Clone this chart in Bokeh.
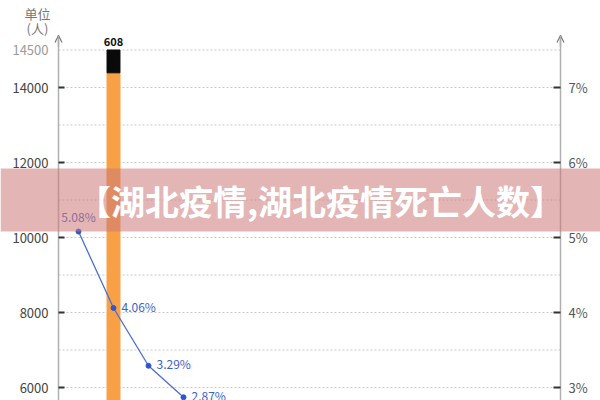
from bokeh.plotting import figure
from bokeh.models import (Range1d, LinearAxis, FixedTicker, PrintfTickFormatter,
                          Label, BoxAnnotation, Arrow, OpenHead, ColumnDataSource, LabelSet)
from bokeh.core.properties import value
from bokeh.embed import file_html
from bokeh.resources import INLINE

# ---- data ----
days = [1, 2, 3, 4]
rate_pct = [5.08, 4.06, 3.29, 2.87]
rate_labels = ["5.08%", "4.06%", "3.29%", "2.87%"]
bar_day = [2]
bar_cases = [14392]
bar_deaths = [608]
left_ticks = [6000, 8000, 10000, 12000, 14000]
top_tick = [15000]
top_tick_label = {15000: "14500"}
grid_ticks = [6000, 7000, 8000, 9000, 10000, 11000, 12000, 13000, 14000, 15000]
right_ticks = [3, 4, 5, 6, 7]
banner_text = "【湖北疫情,湖北疫情死亡人数】"
unit_text = ["单位", "(人)"]

FONT = "Noto Sans CJK SC"
PCT_PER_UNIT = 1 / 2000.0


# layout helpers: page column/row -> data coordinates
def x_at(col):
    return 1 + (col - 78) / 35.0


def v_at(row):
    return 14000 - (row - 87) * 2000 / 75.0


Y_LO, Y_HI = v_at(400), v_at(0)
LEFT_X, RIGHT_X, AXIS_TOP = x_at(58), x_at(560), v_at(35)

p = figure(width=600, height=400, output_backend="svg", toolbar_location=None,
           x_range=Range1d(x_at(0), x_at(600)), y_range=Range1d(Y_LO, Y_HI),
           x_axis_type=None, y_axis_type=None,
           min_border_left=0, min_border_right=0, min_border_top=0, min_border_bottom=0)
p.outline_line_color = None
p.xgrid.visible = False
p.ygrid.visible = False
p.extra_y_ranges = {"pct": Range1d(Y_LO * PCT_PER_UNIT, Y_HI * PCT_PER_UNIT)}

# dashed grid lines between the two axes
n = len(grid_ticks)
p.segment(x0=[LEFT_X] * n, y0=grid_ticks, x1=[RIGHT_X] * n, y1=grid_ticks,
          line_color="#c8c8c8", line_dash="2 2", line_width=1)

# axes
common = dict(major_tick_out=0, major_tick_line_width=2, minor_tick_line_color=None,
              major_label_text_font=FONT, major_label_text_font_size="13px")
la = LinearAxis(fixed_location=LEFT_X, bounds=(Y_LO, AXIS_TOP),
                ticker=FixedTicker(ticks=left_ticks),
                axis_line_color="#b0b0b0", axis_line_width=1.5,
                major_tick_in=6, major_tick_line_color="#333333",
                major_label_text_color="#444444", major_label_standoff=10, **common)
p.add_layout(la, "left")
la_top = LinearAxis(fixed_location=LEFT_X, ticker=FixedTicker(ticks=top_tick),
                    major_label_overrides=top_tick_label, axis_line_color=None,
                    major_tick_in=6, major_tick_line_color=None,
                    major_label_text_color="#9a9a9a", major_label_standoff=10, **common)
p.add_layout(la_top, "left")
ra = LinearAxis(y_range_name="pct", fixed_location=RIGHT_X,
                bounds=(Y_LO * PCT_PER_UNIT, AXIS_TOP * PCT_PER_UNIT),
                ticker=FixedTicker(ticks=right_ticks),
                formatter=PrintfTickFormatter(format="%d%%"),
                axis_line_color="#b0b0b0", axis_line_width=1.5,
                major_tick_in=7, major_tick_line_color="#333333",
                major_label_text_color="#555555", major_label_standoff=8, **common)
p.add_layout(ra, "right")

# axis arrows
for xa in (LEFT_X, RIGHT_X):
    p.add_layout(Arrow(x_start=xa, y_start=AXIS_TOP - 300, x_end=xa, y_end=AXIS_TOP,
                       line_color="#b0b0b0", line_width=1.5,
                       end=OpenHead(size=7, line_color="#777777", line_width=1.2)))

# stacked bar
bar_tops = [c + d for c, d in zip(bar_cases, bar_deaths)]
p.vbar(x=bar_day, top=bar_cases, bottom=0, width=0.37, color="#F7A046")
p.vbar(x=bar_day, top=bar_tops, bottom=bar_cases, width=0.37, color="#0a0a0a")
p.text(x=bar_day, y=bar_tops, text=[str(d) for d in bar_deaths], text_font_style="bold",
       text_font_size="11px", text_color="#111111", text_align="center",
       text_baseline="bottom", y_offset=-4, text_font=value(FONT))

# rate line
src = ColumnDataSource(dict(x=days, y=rate_pct, t=rate_labels))
first = ColumnDataSource(dict(x=days[:1], y=rate_pct[:1], t=rate_labels[:1]))
rest = ColumnDataSource(dict(x=days[1:], y=rate_pct[1:], t=rate_labels[1:]))
p.line("x", "y", source=src, y_range_name="pct", line_color="#4a6ed8", line_width=1.3)
p.scatter("x", "y", source=src, y_range_name="pct", size=5, color="#3355cc")
p.add_layout(LabelSet(x="x", y="y", text="t", source=first, y_range_name="pct",
                      text_align="center", text_baseline="bottom", y_offset=7,
                      text_font=value(FONT), text_font_size=value("12px"),
                      text_color="#3a5fcd"))
p.add_layout(LabelSet(x="x", y="y", text="t", source=rest, y_range_name="pct",
                      text_align="left", text_baseline="middle", x_offset=8, y_offset=2,
                      text_font=value(FONT), text_font_size=value("12px"),
                      text_color="#3a5fcd"))

# unit label
for txt, row in zip(unit_text, (13, 28)):
    p.add_layout(Label(x=x_at(37), y=v_at(row), text=txt, text_align="center",
                       text_baseline="middle", text_font=FONT, text_font_size="13px",
                       text_color="#777777"))

# banner overlay
p.add_layout(BoxAnnotation(bottom=v_at(231), top=v_at(168), fill_color="#cc7878",
                           fill_alpha=0.55, line_color=None, level="overlay"))
p.add_layout(Label(x=x_at(320), y=v_at(199.5), text=banner_text,
                   text_align="center", text_baseline="middle", text_font=FONT,
                   text_font_style="bold", text_font_size="34px", text_color="white",
                   level="overlay"))

open("out.html", "w").write(file_html(p, INLINE))
